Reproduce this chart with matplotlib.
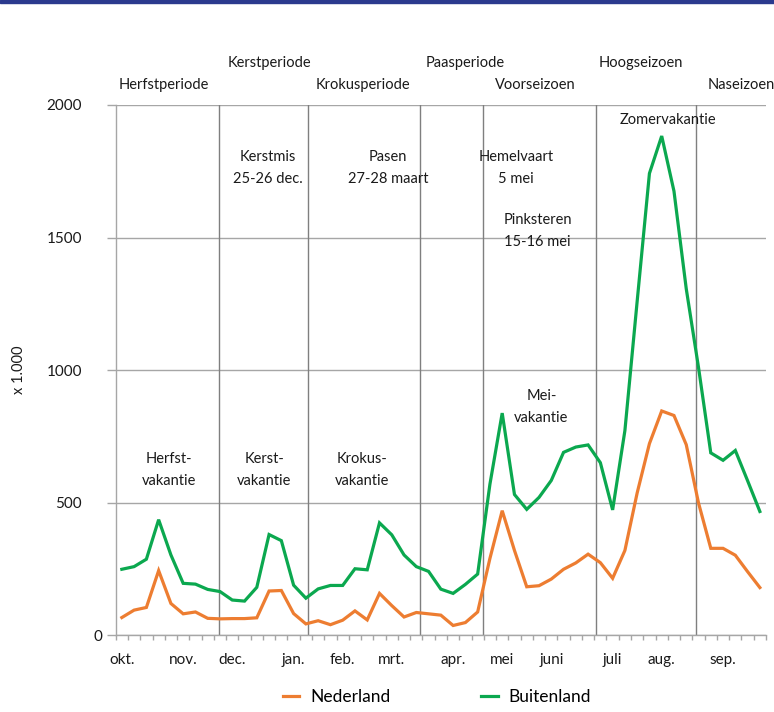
import matplotlib
matplotlib.use("Agg")
import matplotlib.pyplot as plt
import matplotlib.transforms as mtransforms
from matplotlib.patches import Rectangle
from matplotlib.lines import Line2D

plt.rcParams['font.family'] = ['Lato', 'DejaVu Sans']

# weekly values (x 1.000), week 0 = begin oktober
nederland = [67, 95, 105, 244, 120, 81, 88, 64, 62, 63, 63, 66, 167, 169, 82, 43,
             55, 40, 57, 92, 58, 158, 112, 69, 86, 81, 76, 37, 48, 88, 290, 470,
             320, 183, 187, 212, 249, 273, 306, 274, 215, 320, 537, 723, 846, 829,
             719, 499, 328, 328, 302, 240, 180]
buitenland = [249, 259, 287, 436, 303, 196, 193, 173, 165, 133, 129, 181, 380, 357, 189, 140,
              175, 188, 188, 251, 247, 424, 379, 303, 259, 241, 174, 158, 192, 231, 570, 838,
              531, 475, 520, 584, 690, 710, 718, 651, 473, 772, 1260, 1742, 1883, 1675,
              1307, 1010, 688, 660, 697, 583, 467]

month_labels = ['okt.', 'nov.', 'dec.', 'jan.', 'feb.', 'mrt.', 'apr.', 'mei', 'juni',
                'juli', 'aug.', 'sep.']
month_weeks = [0, 5, 9, 14, 18, 22, 27, 31, 35, 40, 44, 49]

period_bounds = [7.95, 15.2, 24.26, 29.46, 38.65, 46.8]
period_names = ['Herfstperiode', 'Kerstperiode', 'Krokusperiode', 'Paasperiode',
                'Voorseizoen', 'Hoogseizoen', 'Naseizoen']

orange = '#ED7D31'
green = '#0BA84F'
grid_c = '#A6A6A6'
line_c = '#7F7F7F'
txt_c = '#1A1A1A'

W, H = 774, 712
fig = plt.figure(figsize=(W / 100, H / 100), dpi=100)
fig.patches.append(Rectangle((0, 1 - 3 / H), 1, 3 / H, transform=fig.transFigure,
                             color='#2B3A8E', zorder=10))

left, right, top, bottom = 115.7, 766, 105, 635.3
ax = fig.add_axes([left / W, (H - bottom) / H, (right - left) / W, (bottom - top) / H])

n = len(nederland)
x = list(range(n))
ax.set_xlim(-0.5, n - 0.5)
ax.set_ylim(0, 2000)

ax.set_yticks([0, 500, 1000, 1500, 2000])
ax.set_yticklabels(['0', '500', '1000', '1500', '2000'])
ax.yaxis.grid(True, color=grid_c, linewidth=1.0)
ax.set_axisbelow(True)
ax.tick_params(axis='y', length=8.7 * 0.72, color=grid_c, width=1.0, pad=18,
               labelsize=11, labelcolor=txt_c)
# the zero label sits closer to the axis in the original
zero_lbl = ax.get_yticklabels()[0]
zero_lbl.set_transform(zero_lbl.get_transform() +
                       mtransforms.ScaledTranslation(20 / 100, 0, fig.dpi_scale_trans))

ax.set_xticks(month_weeks)
ax.set_xticklabels(month_labels)
ax.set_xticks([i - 0.5 for i in range(n + 1)], minor=True)
ax.tick_params(axis='x', which='major', length=0, pad=13, labelsize=11, labelcolor=txt_c)
ax.tick_params(axis='x', which='minor', length=5 * 0.72, color=grid_c, width=1.0)

for s in ['top', 'right']:
    ax.spines[s].set_visible(False)
for s in ['left', 'bottom']:
    ax.spines[s].set_color(grid_c)
    ax.spines[s].set_linewidth(1.0)

for b in period_bounds:
    ax.axvline(b, color=line_c, linewidth=1.0, zorder=1)

ax.plot(x, nederland, color=orange, linewidth=2.3, zorder=3, solid_joinstyle='miter')
ax.plot(x, buitenland, color=green, linewidth=2.3, zorder=3, solid_joinstyle='miter')

ax.set_ylabel('x 1.000', fontsize=10.5, color=txt_c, labelpad=15)

fs = 10.5
tops = [(3.44, 2077), (12.0, 2160), (19.66, 2077), (27.97, 2160), (33.67, 2077),
        (42.3, 2160), (50.45, 2077)]
for name, (tx, ty) in zip(period_names, tops):
    ax.text(tx, ty, name, ha='center', va='center', fontsize=fs, color=txt_c, clip_on=False)

notes = [
    (11.9, 1763, 'Kerstmis\n25-26 dec.'),
    (21.7, 1763, 'Pasen\n27-28 maart'),
    (32.1, 1763, 'Hemelvaart\n5 mei'),
    (33.9, 1525, 'Pinksteren\n15-16 mei'),
    (44.5, 1944, 'Zomervakantie'),
    (3.84, 624, 'Herfst-\nvakantie'),
    (11.6, 624, 'Kerst-\nvakantie'),
    (19.6, 624, 'Krokus-\nvakantie'),
    (34.2, 860, 'Mei-\nvakantie'),
]
for tx, ty, t in notes:
    ax.text(tx, ty, t, ha='center', va='center', fontsize=fs, color=txt_c,
            linespacing=1.7, zorder=4)

handles = [Line2D([], [], color=orange, linewidth=2.3),
           Line2D([], [], color=green, linewidth=2.3)]
fig.legend(handles, ['Nederland', 'Buitenland'], loc='center', ncol=2,
           bbox_to_anchor=(437 / W, (H - 697) / H), frameon=False, fontsize=12.5,
           handlelength=0.95, handletextpad=0.65, columnspacing=5.2)

fig.savefig('out.png', dpi=100)
